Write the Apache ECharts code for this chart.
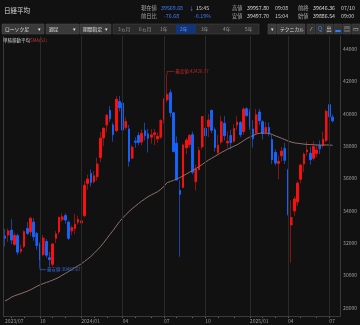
<!DOCTYPE html>
<html><head><meta charset="utf-8">
<script src="https://cdn.jsdelivr.net/npm/echarts@6/dist/echarts.min.js"></script>
<style>html,body{margin:0;padding:0;background:#111;}#c{width:360px;height:325px;}</style>
</head><body><div id="c"></div>
<script>
// ---- data (weekly candles, Nikkei 225) ----
const dates = [
'2023/07/21','2023/07/28','2023/08/04','2023/08/10','2023/08/18','2023/08/25','2023/09/01','2023/09/08','2023/09/15','2023/09/22',
'2023/09/29','2023/10/06','2023/10/13','2023/10/20','2023/10/27','2023/11/02','2023/11/10','2023/11/17','2023/11/24','2023/12/01',
'2023/12/08','2023/12/15','2023/12/22','2023/12/29','2024/01/05','2024/01/12','2024/01/19','2024/01/26','2024/02/02','2024/02/09',
'2024/02/16','2024/02/22','2024/03/01','2024/03/08','2024/03/15','2024/03/22','2024/03/29','2024/04/05','2024/04/12','2024/04/19',
'2024/04/26','2024/05/02','2024/05/10','2024/05/17','2024/05/24','2024/05/31','2024/06/07','2024/06/14','2024/06/21','2024/06/28',
'2024/07/05','2024/07/12','2024/07/19','2024/07/26','2024/08/02','2024/08/09','2024/08/16','2024/08/23','2024/08/30','2024/09/06',
'2024/09/13','2024/09/20','2024/09/27','2024/10/04','2024/10/11','2024/10/18','2024/10/25','2024/11/01','2024/11/08','2024/11/15',
'2024/11/22','2024/11/29','2024/12/06','2024/12/13','2024/12/20','2024/12/27','2024/12/30','2025/01/10','2025/01/17','2025/01/24',
'2025/01/31','2025/02/07','2025/02/14','2025/02/21','2025/02/28','2025/03/07','2025/03/14','2025/03/21','2025/03/28','2025/04/04',
'2025/04/11','2025/04/18','2025/04/25','2025/05/02','2025/05/09','2025/05/16','2025/05/23','2025/05/30','2025/06/06','2025/06/13',
'2025/06/20','2025/06/27','2025/07/04','2025/07/10'];
const open = [
32440,32500,32800,31930,32460,31500,31800,32900,32700,33300,
32600,31950,31300,32100,31100,30700,32300,32700,33450,33700,
33300,32750,32900,33300,33250,33700,35700,36300,35800,36100,
37300,38500,39300,40200,39300,38950,40750,40650,39150,39050,
37250,38300,38650,38250,38950,38750,38550,38720,38450,38550,
39650,40850,41300,40050,38170,35250,35450,37900,38100,38700,
35800,36550,37950,39100,39200,40200,39000,37600,38250,39400,
38200,38650,38300,39300,39450,38900,40300,40100,39050,38800,
40100,39500,38850,39150,38400,37600,36934,37400,37850,36500,
33120,33990,34550,35950,36900,37650,37550,37250,37550,38050,
38050,38350,40550,39780];
const close = [
32304,32759,32192,32473,31450,31624,32710,32606,33533,32402,
31857,30994,32315,31259,30991,31950,32568,33585,33625,33431,
32307,32970,33169,33464,33377,35577,35963,35751,36158,36897,
38487,39098,39910,39688,38707,40888,40369,38992,39523,37068,
37934,38236,38229,38787,38646,38487,38683,38814,38596,39583,
40912,41190,40063,37667,35909,35025,38062,38364,38647,36391,
36581,37723,39829,38635,39605,38981,37913,38053,39500,38642,
38283,38208,39091,39470,38701,40281,39894,39190,38451,39931,
39572,38787,39149,38776,37155,36950,37053,37677,37120,33780,
33585,34730,35705,36830,37503,37753,37160,37965,37741,37834,
38403,40150,39810,39569.68];
const low = [
31800,32080,31930,31830,31275,31360,31700,32500,32450,32150,
31600,30487.67,31200,31100,30550,30550,32000,32550,33300,33200,
32200,32500,32550,33150,32690,33600,35300,35500,35700,35850,
37000,38000,38850,39500,38270,38850,40150,38774,39000,36733,
37200,37900,38050,38050,38350,37600,38150,38050,38200,38450,
39400,40700,39800,37611,35880,31156,35400,37500,37900,36250,
35250,36500,37800,37650,38550,38800,37650,37450,38100,38350,
37900,37800,38200,39000,38550,38700,39800,39000,37900,38700,
39300,38400,38700,38600,36900,36800,35950,37050,36900,33700,
30792.74,33700,34300,35700,36400,37400,36850,37100,37300,37500,
37900,38250,39650,39450];
const high = [
32890,32910,33488,32650,32600,31900,32800,33300,33634,33550,
32700,32050,32500,32250,31450,32000,32750,33650,33853,33850,
33400,33100,33800,33700,33600,35850,36240,36550,36450,37290,
38865,39160,39990,40472,39450,41087,41088,40700,39774,39300,
38050,38550,38850,39050,39450,39050,39050,39050,38850,39650,
40950,42426.77,41500,40100,38600,35900,38150,38500,38750,38900,
36850,37950,39850,39200,39980,40257,39150,38700,39880,39850,
38900,39000,39350,39850,39550,40400,40400,40288,39600,40280,
40300,39600,39500,39450,38700,37800,37400,37950,38200,36600,
34640,34900,35850,36900,37600,38300,37950,38300,38100,38350,
38900,40250,40850,39950];
// 52-week simple moving average
const sma52 = [
28430,28530,28660,28750,28820,28880,28960,29030,29120,29220,
29330,29420,29500,29570,29640,29720,29800,29900,30020,30130,
30250,30370,30490,30610,30720,30870,31020,31180,31370,31570,
31780,32020,32280,32540,32790,33060,33330,33550,33760,33950,
34130,34290,34450,34600,34740,34870,34980,35080,35180,35330,
35510,35740,35810,35880,35960,36050,36160,36270,36380,36490,
36610,36730,36860,37000,37130,37250,37360,37480,37600,37700,
37810,37900,37990,38080,38200,38330,38460,38560,38650,38740,
38790,38800,38800,38780,38720,38630,38560,38480,38400,38310,
38250,38200,38170,38150,38120,38100,38090,38080,38070,38060,
38060,38070,38060,38050];
const yTickLabels = [28000,30000,32000,34000,36000,38000,40000,42000,44000];
const maxLabel = '最高値:42426.77';
const minLabel = '最安値:30487.67';

// ---- helpers ----
const FONT = '"Noto Sans CJK JP","Noto Sans",sans-serif';
const mon = i => dates[i].slice(5,7);
const isMonthStart = i => i > 0 && mon(i) !== mon(i-1);
const isQuarterStart = i => isMonthStart(i) && ['01','04','07','10'].includes(mon(i));
const quarterIdx = dates.map((d,i)=>i).filter(isQuarterStart);

function txt(x,y,t,fill,size,align){
  return {type:'text', x:x, y:y, silent:true, z:100,
    style:{text:t, fill:fill, font: size+'px '+FONT, align: align||'left', verticalAlign:'middle',
           textAlign: align||'left', textVerticalAlign:'middle'}};
}
function box(x,y,w,h,fill,stroke){
  return {type:'rect', shape:{x:x,y:y,width:w,height:h}, silent:true, z:99,
    style:{fill:fill, stroke:stroke||null, lineWidth:stroke?0.6:0}};
}
function line(pts,color,w){
  return {type:'polyline', shape:{points:pts}, silent:true, z:98, style:{stroke:color, lineWidth:w||1, fill:null}};
}

const G = {left:3.4, top:36, width:331.8, height:280};
const base = [];
// header
base.push(txt(4,11,'日経平均','#dddddd',6.5));
const hdr = [
  [141,7.5,'現在値','#a8a8a8'],[161,7.5,'39569.68','#3f7fff'],[189,7.5,'↓','#3f7fff'],[196,7.5,'15:45','#cccccc'],
  [232,7.5,'高値','#a8a8a8'],[247,7.5,'39957.80','#dddddd'],[275,7.5,'09:08','#cccccc'],
  [298,7.5,'前終','#a8a8a8'],[313,7.5,'39646.36','#dddddd'],[341,7.5,'07/10','#cccccc'],
  [141,16,'前日比','#a8a8a8'],[164,16,'-76.68','#3f7fff'],[194,16,'-0.19%','#3f7fff'],
  [232,16,'安値','#a8a8a8'],[247,16,'39497.70','#dddddd'],[275,16,'15:04','#cccccc'],
  [298,16,'始値','#a8a8a8'],[313,16,'39886.54','#dddddd'],[341,16,'09:00','#cccccc']
];
hdr.forEach(h=>base.push(txt(h[0],h[1],h[2],h[3],5.3)));
// toolbar
const TY=24, TH=10, TM=29;
[[2,42,'ローソク足'],[46,33,'週足'],[80,31,'期間指定']].forEach(b=>{
  base.push(box(b[0],TY,b[1],TH,'#3a3a3a','#4a4a4a'));
  base.push(txt(b[0]+3,TM,b[2],'#e0e0e0',4.8));
  base.push(txt(b[0]+b[1]-3,TM,'▾','#e0e0e0',4.5,'right'));
});
base.push(box(113,TY,146,TH,'#2a2a2a','#444444'));
base.push(box(176,TY+0.5,20,TH-1,'#10357a',null));
[[118,'3ヵ月'],[139,'6ヵ月'],[160,'1年'],[201,'3年'],[223,'4年'],[245,'5年']].forEach(p=>base.push(txt(p[0],TM,p[1],'#9a9a9a',4.8)));
base.push(txt(180,TM,'2年','#6a9cff',4.8));
base.push(box(268,TY,8,TH,'#3a3a3a','#4a4a4a'));
base.push(txt(272,TM,'▾','#dddddd',4.5,'center'));
base.push(box(277,TY,28,TH,'#3a3a3a','#4a4a4a'));
base.push(txt(280,TM,'テクニカル','#dddddd',4.8));
[[307,'⁄','#cccccc'],[316,'Q','#4a8cff'],[325,'出','#cccccc'],[334,'▃','#2a7bff'],[343,'▤','#cccccc'],[352,'▭','#cccccc']].forEach(ic=>{
  base.push(box(ic[0],TY,8,TH,'#333333','#444444'));
  base.push(txt(ic[0]+4,TM,ic[1],ic[2],5.5,'center'));
});
// legend
base.push(txt(3,40.5,'単純移動平均','#cfcfcf',4.5));
base.push(txt(30,40.5,'SMA(52)','#b83a3a',4.5));
// frame
base.push(line([[3.5,36],[3.5,316.5]],'#3a3a3a',1));
base.push(line([[3,316.5],[340.5,316.5]],'#3a3a3a',1));
base.push(line([[340.5,36],[340.5,316.5]],'#3a3a3a',1));

const ohlc = dates.map((d,i)=>[open[i],close[i],low[i],high[i]]);
const bodies = dates.map((d,i)=>[open[i],close[i],Math.min(open[i],close[i]),Math.max(open[i],close[i])]);

const option = {
  animation:false,
  backgroundColor:'#111111',
  grid:G,
  xAxis:{type:'category', data:dates, boundaryGap:true,
    axisLine:{show:false},
    axisTick:{show:true, alignWithLabel:true, length:2, interval:(i)=>isMonthStart(i), lineStyle:{color:'#666',width:1}},
    axisLabel:{show:true, interval:(i)=> i===0 || isQuarterStart(i), color:'#9a9a9a', fontSize:5, fontFamily:FONT,
      align:'left', margin:3,
      formatter:(v,i)=> (i===0 || v.slice(5,7)==='01') ? v.slice(0,7) : v.slice(5,7)},
    splitLine:{show:false}},
  yAxis:{type:'value', position:'right', min:27500, max:44800, interval:500, scale:true,
    axisLine:{show:false}, axisTick:{show:false}, splitLine:{show:false},
    axisLabel:{color:'#a0a0a0', fontSize:5, fontFamily:FONT, margin:9, align:'left',
      formatter:(v)=> yTickLabels.includes(v) ? String(v) : ''}},
  series:[
    {type:'candlestick', name:'wick', data:ohlc, barWidth:2.2, z:2,
      itemStyle:{color:'#7a1212', color0:'#173a86', borderColor:'#8a1414', borderColor0:'#1d43a0', borderWidth:1},
      markLine:{silent:true, symbol:['none','none'], label:{show:false},
        lineStyle:{color:'#2a2a2a', type:'solid', width:1},
        data: quarterIdx.map(i=>({xAxis:dates[i]}))}},
    {type:'candlestick', name:'body', data:bodies, barWidth:2.0, z:3,
      itemStyle:{color:'#ff1010', color0:'#1466ff', borderColor:'#ff1010', borderColor0:'#1466ff', borderWidth:0.8}},
    {type:'line', name:'SMA(52)', data:sma52, symbol:'none', z:4,
      lineStyle:{color:'#8f706c', width:1}}
  ],
  graphic:{elements:base}
};
const chart = echarts.init(document.getElementById('c'), null, {renderer:'canvas', width:360, height:325});
chart.setOption(option);

const ih = high.indexOf(Math.max(...high));
const il = low.indexOf(Math.min(...low.slice(0,60)));
const pH = chart.convertToPixel({gridIndex:0}, [ih, high[ih]]);
const pL = chart.convertToPixel({gridIndex:0}, [il, low[il]]);
const ann = base.slice();
ann.push(line([[pH[0],pH[1]],[pH[0],pH[1]-3],[pH[0]+7,pH[1]-3]],'#a02020',0.8));
ann.push(txt(pH[0]+8,pH[1]-3,maxLabel,'#c02828',4.5));
ann.push(line([[pL[0],pL[1]],[pL[0],pL[1]+2],[pL[0]+6,pL[1]+2]],'#2a58c0',0.8));
ann.push(txt(pL[0]+7,pL[1]+2,minLabel,'#3a6ad8',4.5));
chart.setOption({graphic:{elements:ann}});
</script></body></html>
